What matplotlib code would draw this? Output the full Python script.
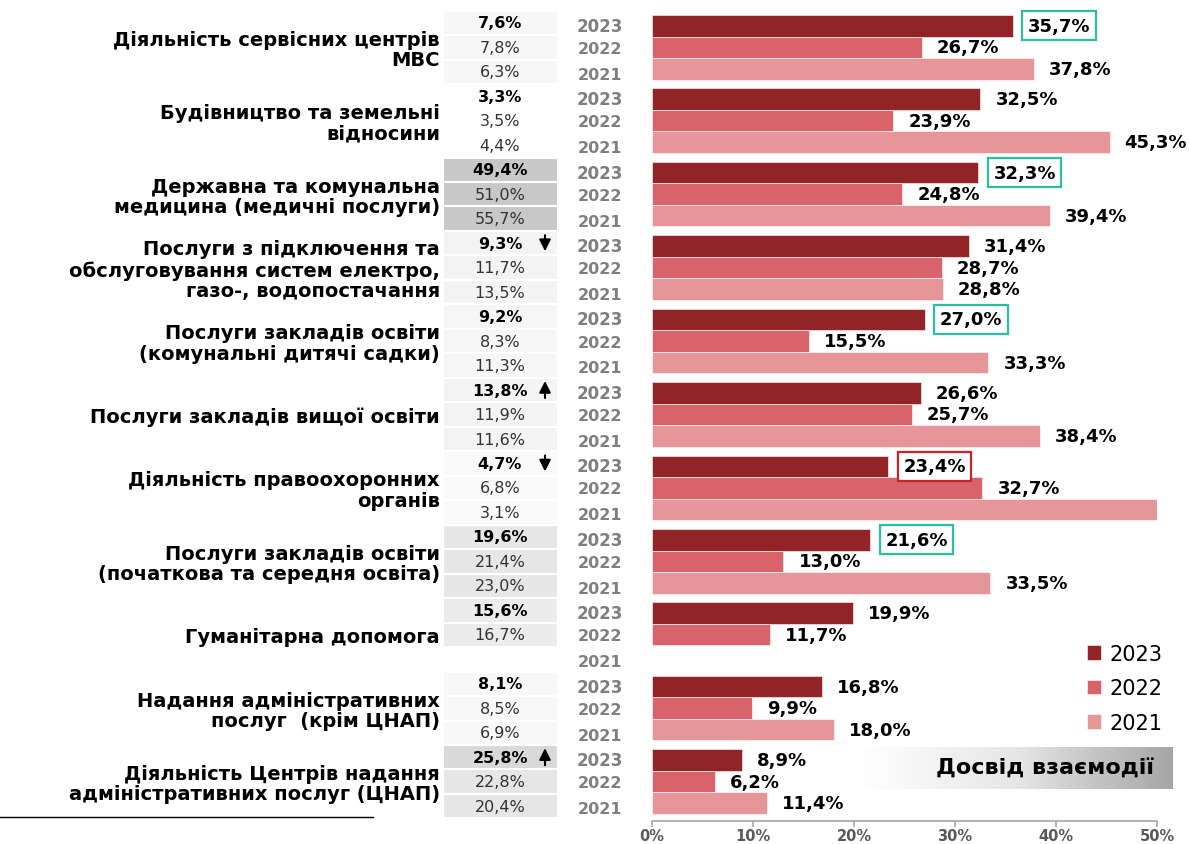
import numpy as np
import matplotlib
matplotlib.use("Agg")
import matplotlib.pyplot as plt
from matplotlib.patches import Rectangle
from matplotlib import transforms
from matplotlib.colors import LinearSegmentedColormap

categories = [
    "Діяльність сервісних центрів\nМВС",
    "Будівництво та земельні\nвідносини",
    "Державна та комунальна\nмедицина (медичні послуги)",
    "Послуги з підключення та\nобслуговування систем електро,\nгазо-, водопостачання",
    "Послуги закладів освіти\n(комунальні дитячі садки)",
    "Послуги закладів вищої освіти",
    "Діяльність правоохоронних\nорганів",
    "Послуги закладів освіти\n(початкова та середня освіта)",
    "Гуманітарна допомога",
    "Надання адміністративних\nпослуг  (крім ЦНАП)",
    "Діяльність Центрів надання\nадміністративних послуг (ЦНАП)",
]
years = ["2023", "2022", "2021"]
v2023 = [35.7, 32.5, 32.3, 31.4, 27.0, 26.6, 23.4, 21.6, 19.9, 16.8, 8.9]
v2022 = [26.7, 23.9, 24.8, 28.7, 15.5, 25.7, 32.7, 13.0, 11.7, 9.9, 6.2]
v2021 = [37.8, 45.3, 39.4, 28.8, 33.3, 38.4, 50.0, 33.5, np.nan, 18.0, 11.4]
show2021 = [True, True, True, True, True, True, False, True, False, True, True]

share2023 = ["7,6%", "3,3%", "49,4%", "9,3%", "9,2%", "13,8%", "4,7%", "19,6%", "15,6%", "8,1%", "25,8%"]
share2022 = ["7,8%", "3,5%", "51,0%", "11,7%", "8,3%", "11,9%", "6,8%", "21,4%", "16,7%", "8,5%", "22,8%"]
share2021 = ["6,3%", "4,4%", "55,7%", "13,5%", "11,3%", "11,6%", "3,1%", "23,0%", "", "6,9%", "20,4%"]
trend = ["", "", "", "down", "", "up", "down", "", "", "", "up"]
boxed = {0: "#2bbf9f", 2: "#2bbf9f", 4: "#2bbf9f", 6: "#cc1f26", 7: "#2bbf9f"}

cell_bg = ["#f7f7f7", "#ffffff", "#c8c8c8", "#f3f3f3", "#f6f6f6", "#f3f3f3",
           "#fafafa", "#e7e7e7", "#ececec", "#f8f8f8", "#e6e6e6"]

colors = ["#922428", "#d9636a", "#e69598"]

W, H = 1189, 845
fig = plt.figure(figsize=(W / 100, H / 100), dpi=100)
ax = fig.add_axes([652 / W, 1 - 822 / H, 505 / W, (822 - 8) / H])

P = 3.41
n = len(categories)
base = np.arange(n) * P
series = [v2023, v2022, v2021]
for j, vals in enumerate(series):
    ax.barh(base + j, vals, height=1.0, color=colors[j], edgecolor="white",
            linewidth=0.4, label=years[j], zorder=2)

ax.set_xlim(0, 50)
ax.set_ylim(36.93, -0.87)
for s in ["top", "right", "left"]:
    ax.spines[s].set_visible(False)
ax.spines["bottom"].set_color("#a6a6a6")
ax.spines["bottom"].set_linewidth(1.2)
ax.set_yticks([])
ax.set_xticks(np.arange(0, 51, 10))
ax.set_xticklabels([f"{x}%" for x in range(0, 51, 10)], fontsize=10.5,
                   fontweight="bold", color="#595959")
ax.tick_params(axis="x", length=4, color="#a6a6a6", width=1.2, pad=1)

# value labels
for i in range(n):
    for j, vals in enumerate(series):
        v = vals[i]
        if np.isnan(v) or (j == 2 and not show2021[i]):
            continue
        txt = f"{v:.1f}%".replace(".", ",")
        bbox = None
        if j == 0 and i in boxed:
            bbox = dict(boxstyle="square,pad=0.3", fc="white", ec=boxed[i], lw=1.6)
        ax.text(v + 1.5, base[i] + j, txt, ha="left", va="center", fontsize=13,
                fontweight="bold", color="black", bbox=bbox, zorder=4)

bt = transforms.blended_transform_factory(fig.transFigure, ax.transData)

# share table cells
for i in range(n):
    top = base[i] - 0.7
    rows = [share2023[i], share2022[i], share2021[i]]
    for k in range(3):
        y0 = top + k * P / 3
        col = cell_bg[i]
        if i == 10 and k == 0:
            col = "#d9d9d9"
        if i == 8 and k == 2:
            col = "#ffffff"
        r = Rectangle((443 / W, y0), (558 - 443) / W, P / 3, transform=bt,
                      facecolor=col, edgecolor="white", lw=1.5, clip_on=False, zorder=1)
        ax.add_patch(r)
        yc = y0 + P / 6
        if rows[k]:
            ax.text(500 / W, yc, rows[k], transform=bt, ha="center", va="center",
                    fontsize=11.5, fontweight="bold" if k == 0 else "normal",
                    color="black" if k == 0 else "#333333", clip_on=False, zorder=3)
    if trend[i]:
        yc = top + P / 6
        if trend[i] == "down":
            ax.annotate("", xy=(545 / W, yc + 0.5), xytext=(545 / W, yc - 0.5),
                        xycoords=bt, textcoords=bt,
                        arrowprops=dict(arrowstyle="-|>", color="black", lw=1.5,
                                        mutation_scale=17))
        else:
            ax.annotate("", xy=(545 / W, yc - 0.55), xytext=(545 / W, yc + 0.5),
                        xycoords=bt, textcoords=bt,
                        arrowprops=dict(arrowstyle="-|>", color="black", lw=1.5,
                                        mutation_scale=17))

# year labels
yoff = [0.0, 0.05, 0.25]
for i in range(n):
    for j in range(3):
        ax.text(600 / W, base[i] + j + yoff[j], years[j], transform=bt, ha="center",
                va="center", fontsize=12 if j == 0 else 11.5, fontweight="bold",
                color="#7f7f7f", clip_on=False)

# category labels
for i in range(n):
    ax.text(440 / W, base[i] + 1.1, categories[i], transform=bt, ha="right",
            va="center", fontsize=14, fontweight="bold", color="black",
            linespacing=1.1, clip_on=False)

# legend
handles, labels = ax.get_legend_handles_labels()
leg = fig.legend(handles, labels, loc="upper left", bbox_to_anchor=(1068 / W, 1 - 626 / H),
                 frameon=False, fontsize=15, handlelength=0.7, handleheight=0.7,
                 labelspacing=0.7, handletextpad=0.4)

# gradient box
gax = fig.add_axes([860 / W, 1 - 790 / H, (1173 - 860) / W, 42 / H])
grad = np.linspace(0, 1, 256).reshape(1, -1)
cmap = LinearSegmentedColormap.from_list("g", ["#ffffff", "#e6e6e6", "#a6a6a6"])
gax.imshow(grad, aspect="auto", cmap=cmap, extent=[0, 1, 0, 1])
gax.set_axis_off()
gax.text(0.94, 0.5, "Досвід взаємодії", ha="right", va="center", fontsize=16,
         fontweight="bold", color="black", transform=gax.transAxes)

# footnote line
fig.add_artist(plt.Line2D([0, 373 / W], [1 - 818 / H, 1 - 818 / H], color="black", lw=1.0))

fig.savefig("out.png", dpi=100)
